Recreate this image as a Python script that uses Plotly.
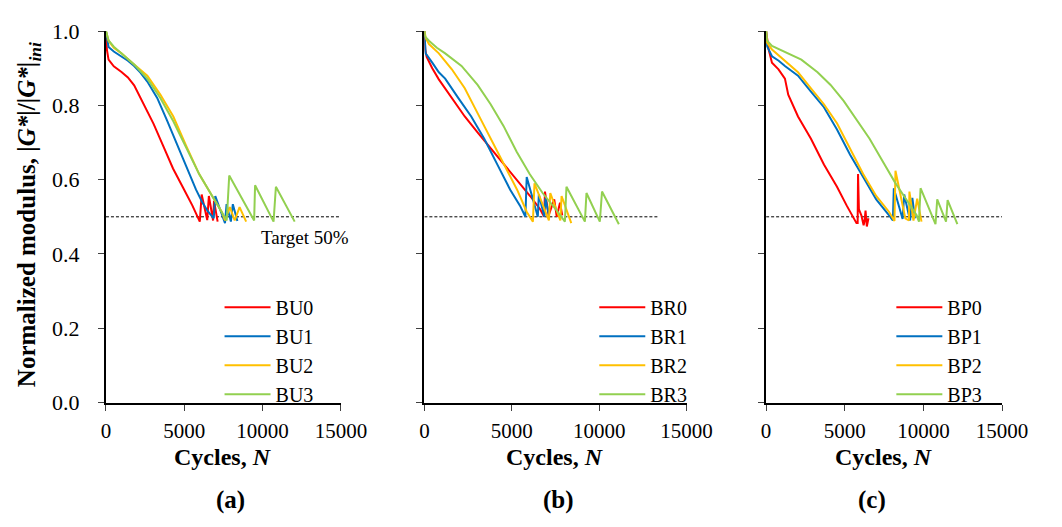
import plotly.graph_objects as go

# ---------------- data ----------------
# Panel (a)
BU0_x = [0, 60, 165, 500, 992, 1400, 1800, 2420, 3040, 3660, 4280, 4900, 5520, 5990, 6110, 6465, 6570, 6840, 6900, 7130]
BU0_y = [1.0, 0.95, 0.923, 0.905, 0.89, 0.875, 0.854, 0.80, 0.75, 0.69, 0.63, 0.58, 0.53, 0.487, 0.56, 0.491, 0.556, 0.49, 0.543, 0.487]
BU1_x = [0, 80, 165, 500, 990, 1400, 1800, 2200, 2640, 3270, 3890, 4500, 5130, 5750, 6140, 6500, 6880, 6980, 7600, 7700, 7975, 8100, 8390]
BU1_y = [1.0, 0.975, 0.957, 0.945, 0.932, 0.92, 0.906, 0.888, 0.864, 0.82, 0.76, 0.70, 0.633, 0.573, 0.54, 0.515, 0.496, 0.556, 0.483, 0.534, 0.487, 0.534, 0.489]
BU2_x = [0, 165, 500, 990, 1800, 2640, 3470, 4300, 5130, 5950, 6780, 7400, 7600, 7910, 8220, 8530, 8950]
BU2_y = [1.0, 0.974, 0.955, 0.94, 0.91, 0.88, 0.829, 0.77, 0.69, 0.615, 0.556, 0.513, 0.49, 0.526, 0.49, 0.526, 0.487]
BU3_x = [0, 165, 500, 990, 1800, 2640, 3470, 4300, 5130, 5950, 6780, 7500, 7710, 7870, 9460, 9520, 10700, 10850, 12050]
BU3_y = [1.0, 0.975, 0.958, 0.94, 0.91, 0.872, 0.82, 0.757, 0.684, 0.615, 0.556, 0.504, 0.49, 0.611, 0.49, 0.585, 0.487, 0.581, 0.487]

# Panel (b)
BR0_x = [0, 50, 130, 450, 825, 1570, 2310, 3065, 3810, 4550, 5305, 6050, 6615, 6855, 6900, 7110, 7430, 7575, 7760, 7890]
BR0_y = [1.0, 0.95, 0.93, 0.9, 0.87, 0.82, 0.77, 0.726, 0.684, 0.641, 0.598, 0.556, 0.521, 0.50, 0.568, 0.504, 0.547, 0.50, 0.538, 0.504]
BR1_x = [0, 35, 70, 450, 825, 1190, 1525, 1935, 2680, 3425, 4170, 4910, 5470, 5780, 5855, 6490, 6550, 6865, 6930, 7145]
BR1_y = [1.0, 0.96, 0.94, 0.915, 0.889, 0.872, 0.85, 0.82, 0.77, 0.71, 0.641, 0.573, 0.53, 0.50, 0.607, 0.50, 0.56, 0.50, 0.55, 0.50]
BR2_x = [0, 90, 260, 825, 1570, 2310, 3065, 3810, 4550, 5305, 5860, 6210, 6300, 7125, 7205, 7780, 7850, 8405]
BR2_y = [1.0, 0.98, 0.965, 0.94, 0.897, 0.846, 0.777, 0.71, 0.641, 0.573, 0.513, 0.487, 0.59, 0.49, 0.564, 0.49, 0.556, 0.483]
BR3_x = [0, 45, 260, 715, 1190, 2125, 3045, 3790, 4535, 5280, 6025, 6765, 7510, 8040, 8130, 9185, 9275, 10040, 10165, 11130]
BR3_y = [1.0, 0.985, 0.974, 0.955, 0.94, 0.906, 0.855, 0.803, 0.744, 0.675, 0.615, 0.564, 0.521, 0.487, 0.581, 0.487, 0.564, 0.487, 0.568, 0.48]

# Panel (c)
BP0_x = [0, 100, 165, 372, 787, 1196, 1407, 2027, 2851, 3676, 4506, 5126, 5746, 5820, 5845, 5900, 6056, 6200, 6260, 6322, 6403, 6508]
BP0_y = [1.0, 0.96, 0.95, 0.915, 0.897, 0.872, 0.829, 0.77, 0.71, 0.641, 0.581, 0.53, 0.483, 0.483, 0.615, 0.52, 0.504, 0.477, 0.49, 0.517, 0.474, 0.496]
BP1_x = [0, 50, 372, 800, 1196, 2027, 2851, 3676, 4506, 5340, 6170, 7000, 7820, 8058, 8120, 8678, 8781, 9153, 9298, 9463]
BP1_y = [1.0, 0.96, 0.932, 0.92, 0.906, 0.88, 0.837, 0.795, 0.735, 0.667, 0.607, 0.547, 0.504, 0.49, 0.577, 0.494, 0.56, 0.49, 0.551, 0.496]
BP2_x = [0, 50, 372, 1196, 2027, 2851, 3676, 4506, 5340, 6170, 7000, 7820, 8160, 8225, 8850, 9080, 9112, 9370, 9607, 9880]
BP2_y = [1.0, 0.97, 0.95, 0.919, 0.889, 0.846, 0.803, 0.752, 0.684, 0.615, 0.556, 0.513, 0.489, 0.624, 0.496, 0.49, 0.568, 0.49, 0.549, 0.487]
BP3_x = [0, 50, 372, 1196, 2240, 3270, 4100, 4930, 5750, 6580, 7400, 8230, 9050, 9570, 9720, 9820, 10770, 10880, 11440, 11540, 12160]
BP3_y = [1.0, 0.975, 0.96, 0.944, 0.923, 0.889, 0.855, 0.812, 0.761, 0.71, 0.65, 0.59, 0.538, 0.504, 0.487, 0.577, 0.48, 0.547, 0.487, 0.545, 0.48]

# 50 % target lines
target_a_x = [0, 15000]
target_b_x = [0, 13400]
target_c_x = [0, 15000]
target_y = [0.5, 0.5]

x_ticks = [0, 5000, 10000, 15000]
y_ticks = [0.0, 0.2, 0.4, 0.6, 0.8, 1.0]
panel_labels = ["(a)", "(b)", "(c)"]

# ---------------- style ----------------
W, H = 1062, 527
FONT = "Liberation Serif, Times New Roman, serif"
colors = ["#FF0000", "#0070C0", "#FFC000", "#92D050"]

panels = [
    (target_a_x, [("BU0", BU0_x, BU0_y), ("BU1", BU1_x, BU1_y), ("BU2", BU2_x, BU2_y), ("BU3", BU3_x, BU3_y)]),
    (target_b_x, [("BR0", BR0_x, BR0_y), ("BR1", BR1_x, BR1_y), ("BR2", BR2_x, BR2_y), ("BR3", BR3_x, BR3_y)]),
    (target_c_x, [("BP0", BP0_x, BP0_y), ("BP1", BP1_x, BP1_y), ("BP2", BP2_x, BP2_y), ("BP3", BP3_x, BP3_y)]),
]

# plot-area pixel boxes
x_px = [(104, 346), (432, 702), (784, 1027)]
y_top, y_bot = 20, 410
legend_left_px = [221, 607, 913]
label_center_px = [232, 570, 893]

fig = go.Figure()
for i, (tx, series) in enumerate(panels):
    sfx = "" if i == 0 else str(i + 1)
    lg = "legend" if i == 0 else "legend" + str(i + 1)
    fig.add_trace(go.Scatter(x=tx, y=target_y, mode="lines",
                             line=dict(color="black", width=1, dash="3px,2px"),
                             showlegend=False, xaxis="x" + sfx, yaxis="y" + sfx,
                             hoverinfo="skip"))
    for j, (name, xs, ys) in enumerate(series):
        fig.add_trace(go.Scatter(x=xs, y=ys, mode="lines", name=name,
                                 line=dict(color=colors[j], width=2),
                                 xaxis="x" + sfx, yaxis="y" + sfx, legend=lg))

layout = dict(
    width=W, height=H,
    margin=dict(l=0, r=0, t=0, b=0),
    paper_bgcolor="white", plot_bgcolor="white",
    font=dict(family=FONT, size=20, color="black"),
    showlegend=True,
)

for i in range(3):
    sfx = "" if i == 0 else str(i + 1)
    x0, x1 = x_px[i]
    layout["xaxis" + sfx] = dict(
        domain=[x0 / W, x1 / W], anchor="y" + sfx, range=[0, 15000],
        tickvals=x_ticks, ticktext=[str(v) for v in x_ticks],
        ticks="outside", ticklen=6, tickwidth=1, tickcolor="#404040",
        showline=True, linecolor="black", linewidth=2, showgrid=False,
        zeroline=False, tickfont=dict(family=FONT, size=21, color="black"),
        ticklabelstandoff=2,
    )
    layout["yaxis" + sfx] = dict(
        domain=[1 - y_bot / H, 1 - y_top / H], anchor="x" + sfx, range=[0, 1.0],
        tickvals=y_ticks, tickformat=".1f",
        ticks="outside", ticklen=6, tickwidth=1, tickcolor="#404040",
        showline=True, linecolor="black", linewidth=2, showgrid=False,
        zeroline=False, showticklabels=(i == 0),
        tickfont=dict(family=FONT, size=22, color="black"),
        ticklabelstandoff=14,
    )
    lg = "legend" if i == 0 else "legend" + str(i + 1)
    layout[lg] = dict(
        x=legend_left_px[i] / W, xanchor="left",
        y=1 - 289.5 / H, yanchor="top",
        bgcolor="rgba(0,0,0,0)", borderwidth=0,
        font=dict(family=FONT, size=20, color="black"),
        itemwidth=46, traceorder="normal",
    )

fig.update_layout(**layout)

annotations = []
for i in range(3):
    x0, x1 = x_px[i]
    annotations.append(dict(
        text="<b>Cycles, <i>N</i></b>", x=(x0 + x1) / 2 / W, y=1 - 467 / H,
        xref="paper", yref="paper", xanchor="center", yanchor="middle",
        showarrow=False, font=dict(family=FONT, size=24, color="black")))
    annotations.append(dict(
        text="<b>" + panel_labels[i] + "</b>", x=label_center_px[i] / W, y=1 - 512 / H,
        xref="paper", yref="paper", xanchor="center", yanchor="middle",
        showarrow=False, font=dict(family=FONT, size=25, color="black")))

annotations.append(dict(
    text="<b>Normalized modulus, |<i>G*</i>|/|<i>G*</i>|<sub><i>ini</i></sub></b>",
    x=25 / W, y=1 - 213 / H, xref="paper", yref="paper",
    xanchor="center", yanchor="middle", textangle=-90, showarrow=False,
    font=dict(family=FONT, size=25, color="black")))
annotations.append(dict(
    text="Target 50%", x=356 / W, y=1 - 237 / H, xref="paper", yref="paper",
    xanchor="right", yanchor="middle", showarrow=False,
    font=dict(family=FONT, size=19, color="black")))

fig.update_layout(annotations=annotations)

fig.write_html("out.html")
